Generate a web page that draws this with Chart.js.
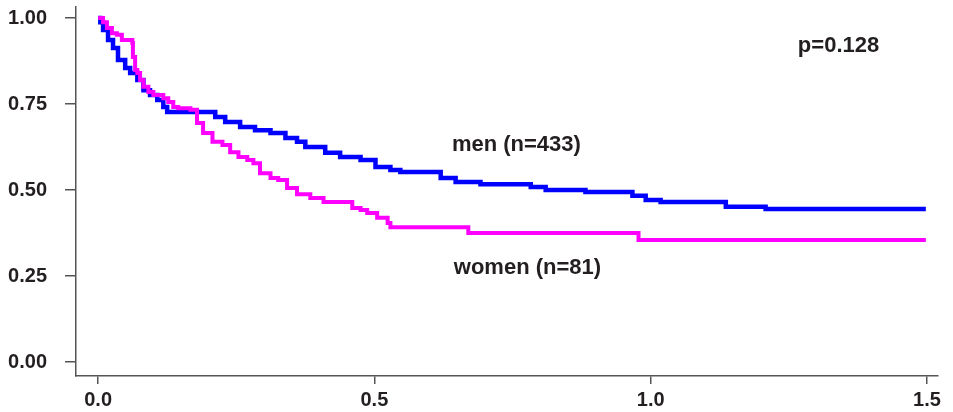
<!DOCTYPE html>
<html lang="en">
<head>
    <meta charset="UTF-8">
    <title>Survival by sex</title>
    <script src="https://cdn.jsdelivr.net/npm/chart.js@4"></script>
    <style>
        html, body { margin: 0; padding: 0; background: #fff; }
        #wrap { width: 953px; height: 412px; position: relative; }
    </style>
</head>
<body>
<div id="wrap"><canvas id="kmChart"></canvas></div>
<script>
    // survival curves (time, survival)
    const menTime = [0, 0.004, 0.009, 0.018, 0.027, 0.036, 0.049, 0.058, 0.071, 0.082,
        0.094, 0.107, 0.118, 0.125, 0.212, 0.230, 0.257, 0.284, 0.312, 0.339,
        0.360, 0.375, 0.411, 0.438, 0.475, 0.502, 0.529, 0.547, 0.620, 0.647,
        0.692, 0.783, 0.810, 0.882, 0.967, 0.991, 1.018, 1.136, 1.208, 1.498];
    const menSurv = [1.0, 0.988, 0.965, 0.936, 0.913, 0.878, 0.855, 0.84, 0.82, 0.79,
        0.776, 0.762, 0.741, 0.727, 0.712, 0.698, 0.683, 0.674, 0.666, 0.651,
        0.640, 0.625, 0.608, 0.596, 0.587, 0.567, 0.558, 0.552, 0.535, 0.523,
        0.517, 0.509, 0.5, 0.494, 0.483, 0.471, 0.465, 0.451, 0.445, 0.445];

    const womenTime = [0, 0.009, 0.016, 0.025, 0.034, 0.043, 0.062, 0.063, 0.067, 0.071,
        0.076, 0.082, 0.091, 0.1, 0.118, 0.127, 0.136, 0.145, 0.167, 0.179,
        0.19, 0.207, 0.225, 0.239, 0.254, 0.27, 0.281, 0.293, 0.312, 0.326,
        0.342, 0.36, 0.384, 0.408, 0.46, 0.475, 0.487, 0.505, 0.524, 0.529,
        0.67, 0.978, 1.498];
    const womenSurv = [1.0, 0.988, 0.971, 0.956, 0.951, 0.936, 0.927, 0.887, 0.849, 0.84,
        0.82, 0.8, 0.785, 0.776, 0.767, 0.756, 0.741, 0.738, 0.733, 0.695,
        0.666, 0.64, 0.631, 0.61, 0.596, 0.587, 0.578, 0.549, 0.535, 0.529,
        0.506, 0.488, 0.477, 0.465, 0.448, 0.442, 0.433, 0.419, 0.404, 0.392,
        0.375, 0.355, 0.355];

    const xTicks = [0, 0.5, 1.0, 1.5];
    const yTicks = [0, 0.25, 0.5, 0.75, 1.0];

    // text labels placed in data coordinates
    const notes = [
        { text: 'p=0.128', x: 1.34, y: 0.92 },
        { text: 'men (n=433)', x: 0.757, y: 0.63 },
        { text: 'women (n=81)', x: 0.777, y: 0.273 }
    ];

    const toPoints = (t, s) => t.map((v, i) => ({ x: v, y: s[i] }));

    const inkColor = '#231f20';
    const axisColor = '#555555';
    const fontFamily = "'Liberation Sans', Arial, Helvetica, sans-serif";

    const notesPlugin = {
        id: 'notes',
        afterDatasetsDraw(chart) {
            const { ctx, scales } = chart;
            ctx.save();
            ctx.fillStyle = inkColor;
            ctx.font = 'bold 22px ' + fontFamily;
            ctx.textAlign = 'center';
            ctx.textBaseline = 'middle';
            notes.forEach(n => {
                ctx.fillText(n.text, scales.x.getPixelForValue(n.x), scales.y.getPixelForValue(n.y));
            });
            ctx.restore();
        }
    };

    const ctx = document.getElementById('kmChart').getContext('2d');
    new Chart(ctx, {
        type: 'line',
        data: {
            datasets: [
                {
                    label: 'women (n=81)',
                    data: toPoints(womenTime, womenSurv),
                    borderColor: '#ff00ff',
                    borderWidth: 4,
                    stepped: true,
                    pointRadius: 0,
                    fill: false
                },
                {
                    label: 'men (n=433)',
                    data: toPoints(menTime, menSurv),
                    borderColor: '#0000ff',
                    borderWidth: 4.5,
                    stepped: true,
                    pointRadius: 0,
                    fill: false
                }
            ]
        },
        options: {
            responsive: true,
            maintainAspectRatio: false,
            animation: false,
            layout: { autoPadding: false, padding: { top: 7, right: 15, left: 0, bottom: 0 } },
            plugins: {
                legend: { display: false },
                tooltip: { enabled: false }
            },
            scales: {
                x: {
                    type: 'linear',
                    min: -0.04,
                    max: 1.52,
                    afterBuildTicks: axis => { axis.ticks = xTicks.map(v => ({ value: v })); },
                    afterFit: axis => {
                        axis.height = 36;
                        axis.paddingLeft = 0;
                        axis.paddingRight = 0;
                    },
                    grid: { drawOnChartArea: false, drawTicks: true, tickLength: 8, color: axisColor, lineWidth: 1.5 },
                    border: { display: true, color: axisColor, width: 1.5 },
                    ticks: {
                        padding: 4,
                        color: inkColor,
                        font: { family: fontFamily, size: 20, weight: 'bold' },
                        callback: v => Number(v).toFixed(1)
                    }
                },
                y: {
                    type: 'linear',
                    min: -0.0407,
                    max: 1.032,
                    afterBuildTicks: axis => { axis.ticks = yTicks.map(v => ({ value: v })); },
                    afterFit: axis => {
                        axis.width = 76;
                        axis.paddingTop = 0;
                        axis.paddingBottom = 0;
                    },
                    grid: { drawOnChartArea: false, drawTicks: true, tickLength: 11, color: axisColor, lineWidth: 1.5 },
                    border: { display: true, color: axisColor, width: 1.5 },
                    ticks: {
                        padding: 18,
                        color: inkColor,
                        font: { family: fontFamily, size: 20, weight: 'bold' },
                        callback: v => Number(v).toFixed(2)
                    }
                }
            }
        },
        plugins: [notesPlugin]
    });
</script>
</body>
</html>
